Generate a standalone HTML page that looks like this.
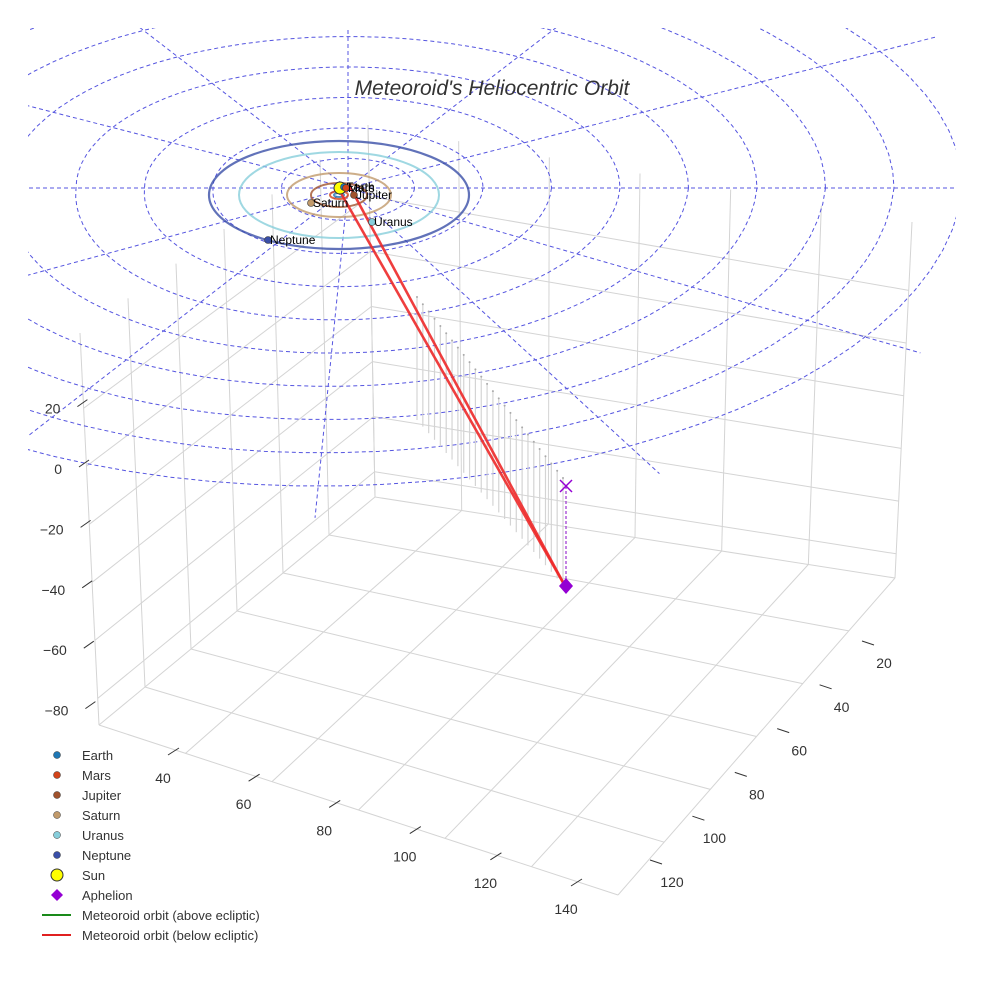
<!DOCTYPE html>
<html><head><meta charset="utf-8"><style>
html,body{margin:0;padding:0;background:#fff}
svg{display:block;font-family:"Liberation Sans",sans-serif}
</style></head><body>
<svg id="c" width="984" height="984" viewBox="0 0 984 984">
<defs><clipPath id="clipE"><rect x="28" y="28" width="928" height="700"/></clipPath></defs>
</svg>
<script>
// ---- data ----
const zTicks=[20,0,-20,-40,-60,-80];
const xTicks=[40,60,80,100,120,140];
const yTicks=[20,40,60,80,100,120];
const planetNames=["Earth","Mars","Jupiter","Saturn","Uranus","Neptune"];
const planetColors=["#1f77b4","#d2441a","#a0522d","#c19a6b","#87cedb","#3a4fa8"];
const planetX=[344,346,354,311,372,268];
const planetY=[187,188,195,203,222,240];
const orbitRx=[5,9,28,52,100,130];
const orbitRy=[2,4,12,22,43,54];
const ringIdx=[1,2,3,4,5,6,7,8,9];
const spokeAngles=[0,30,60,90,120,150,180,210,240,270,300,330];
const stemTopZ=[1,0.98,0.95,0.92,0.88,0.84,0.8,0.76,0.72,0.68,0.64,0.6,0.56,0.52,0.48,0.44,0.4,0.36,0.32,0.28,0.24,0.2,0.16,0.12,0.08,0.04];
const legendLabels=["Earth","Mars","Jupiter","Saturn","Uranus","Neptune","Sun","Aphelion","Meteoroid orbit (above ecliptic)","Meteoroid orbit (below ecliptic)"];

const NS="http://www.w3.org/2000/svg";
const svg=document.getElementById("c");
function mk(tag,attrs,parent){const e=document.createElementNS(NS,tag);for(const k in attrs)e.setAttribute(k,attrs[k]);(parent||svg).appendChild(e);return e;}
function lerp(a,b,t){return [a[0]+(b[0]-a[0])*t,a[1]+(b[1]-a[1])*t];}
function line(p,q,st,par){return mk("line",Object.assign({x1:p[0],y1:p[1],x2:q[0],y2:q[1]},st),par);}

// box geometry
const L=[99,725],B=[375,497],R=[895,578],F=[618,895];
const LT=[80,333],BT=[368,125],RT=[912,222];
const grid=mk("g",{},svg);


const gs={stroke:"#d4d4d4","stroke-width":1,fill:"none"};
function floorPt(u,v){const a=lerp(L,F,u),b=lerp(B,R,u);return lerp(a,b,v);}
for(let i=0;i<=6;i++){const t=i/6;line(floorPt(t,0),floorPt(t,1),gs,grid);line(floorPt(0,t),floorPt(1,t),gs,grid);}
const zF=v=>0.66+v*0.0074;
for(let i=0;i<=6;i++){const t=i/6;line(lerp(L,B,t),lerp(LT,BT,t),gs,grid);line(lerp(B,R,t),lerp(BT,RT,t),gs,grid);}
[-80,-60,-40,-20,0,20].forEach(v=>{const f=zF(v);const a=lerp(L,LT,f),b=lerp(B,BT,f),c=lerp(R,RT,f);line(a,b,gs,grid);line(b,c,gs,grid);});

// ecliptic rings
const ecl=mk("g",{fill:"none",stroke:"#5555e0","stroke-width":1,"stroke-dasharray":"4,3","clip-path":"url(#clipE)"},svg);


const CX=348,CY=188;
function eclPt(r,ang){const a=ang*Math.PI/180;const s=Math.sin(a);const dy=(s>0?0.485:0.445)*r*s;return [CX+r*Math.cos(a)-0.1*Math.max(dy,0),CY+dy];}
ringIdx.forEach(k=>{const r=68.5*k-2;let d="";for(let a=0;a<=360;a+=4){const p=eclPt(r,a);d+=(a?"L":"M")+p[0].toFixed(1)+","+p[1].toFixed(1);}
const e=mk("path",{d:d},ecl);

});
spokeAngles.forEach(a=>{const p=eclPt(a%180==0?900:680,a);const l=line([CX,CY],p,{},ecl);

});

const title=mk("text",{x:492,y:95,"text-anchor":"middle","font-size":21,"font-style":"italic",fill:"#333"});
title.textContent="Meteoroid's Heliocentric Orbit";



// planet orbits
orbitRx.forEach((rx,i)=>{const e=mk("ellipse",{cx:339,cy:195,rx:rx,ry:orbitRy[i],fill:"none",stroke:planetColors[i],"stroke-width":i==5?2.2:2,opacity:0.8});

});

// stems
const stemG=mk("g",{stroke:"#d4d4d4","stroke-width":1.2},svg);


const T0=[417,297],T1=[563,478],B0=[417,420],B1=[563,585];
stemTopZ.forEach((z,i)=>{const t=i/(stemTopZ.length-1);const bot=lerp(B0,B1,t);const top=lerp(bot,lerp(T0,T1,t),z/z);
const l=line(top,bot,{},stemG);


mk("circle",{cx:top[0],cy:top[1],r:1,fill:"#aaa",stroke:"none"},stemG);});

// meteoroid orbit
[[349,185],[338,188]].forEach((s,i)=>{const l=line(s,[565,586],{stroke:"#ee2a2a","stroke-width":2.6,opacity:0.9});

});
const dl=line([566,486],[566,586],{stroke:"#9b30d0","stroke-width":1.2,"stroke-dasharray":"3,2"});


const xm=mk("path",{d:"M560,480 L572,492 M572,480 L560,492",stroke:"#9400d3","stroke-width":1.5});


const dm=mk("path",{d:"M566,578 L573,586 L566,594 L559,586 Z",fill:"#9400d3"});



// planets
const sun=mk("circle",{cx:340,cy:188,r:6,fill:"#ffff00",stroke:"#333","stroke-width":1});


planetNames.forEach((n,i)=>{const c=mk("circle",{cx:planetX[i],cy:planetY[i],r:3.5,fill:planetColors[i],stroke:"#333","stroke-width":0.6});


const t=mk("text",{x:planetX[i]+2,y:planetY[i]+4,"font-size":12,fill:"#000"});t.textContent=n;

});

// axes
const ax=mk("g",{"font-size":14,fill:"#333"},svg);


const zY=v=>469-v*3.02, zX=v=>62-v*0.08;
zTicks.forEach(v=>{const y=zY(v);const t=mk("text",{x:zX(v),y:y+5,"text-anchor":"end"},ax);t.textContent=v<0?"\u2212"+(-v):v;


line([zX(v)+17,y-2],[zX(v)+27,y-9],{stroke:"#333","stroke-width":1},ax);});
const xPos=v=>[163+(v-40)*4.03,778+(v-40)*1.31];
xTicks.forEach(v=>{const p=xPos(v);const t=mk("text",{x:p[0],y:p[1]+5,"text-anchor":"middle"},ax);t.textContent=v;


line([p[0]+5,p[1]-23],[p[0]+16,p[1]-30],{stroke:"#333","stroke-width":1},ax);});
const yPos=v=>[884+(v-20)*-2.12,663+(v-20)*2.19];
yTicks.forEach(v=>{const p=yPos(v);const t=mk("text",{x:p[0],y:p[1]+5,"text-anchor":"middle"},ax);t.textContent=v;


line([p[0]-22,p[1]-22],[p[0]-10,p[1]-18],{stroke:"#333","stroke-width":1},ax);});

// legend
const lg=mk("g",{"font-size":13,fill:"#333"},svg);


legendLabels.forEach((lab,i)=>{const y=755+i*20;const g=mk("g",{},lg);


if(i<6)mk("circle",{cx:57,cy:y,r:3.5,fill:planetColors[i],stroke:"#333","stroke-width":0.5},g);
else if(i==6)mk("circle",{cx:57,cy:y,r:6,fill:"#ffff00",stroke:"#333","stroke-width":1},g);
else if(i==7)mk("path",{d:`M57,${y-6} L63,${y} L57,${y+6} L51,${y} Z`,fill:"#9400d3"},g);
else line([42,y],[71,y],{stroke:i==8?"#1a8a1a":"#e02020","stroke-width":2},g);
const t=mk("text",{x:82,y:y+5},g);t.textContent=lab;});
</script>
</body></html>
